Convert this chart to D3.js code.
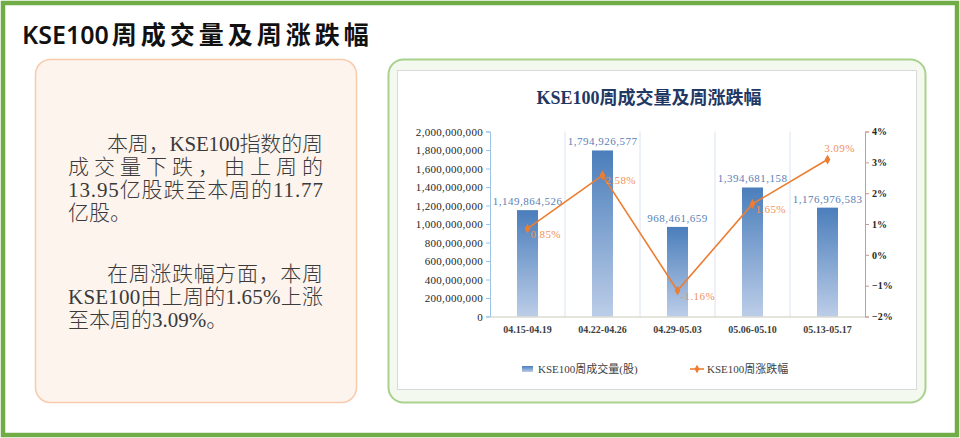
<!DOCTYPE html>
<html>
<head>
<meta charset="utf-8">
<script src="https://cdn.jsdelivr.net/npm/d3@7"></script>
<style>
  body { margin: 0; background: #fff; }
  svg { display: block; }
</style>
</head>
<body>
<svg id="chart" width="960" height="438"></svg>
<script>
// weekly KSE100 data
const weeks = ["04.15-04.19", "04.22-04.26", "04.29-05.03", "05.06-05.10", "05.13-05.17"];
const volumes = [1149864526, 1794926577, 968461659, 1394681158, 1176976583];
const changes = [0.85, 2.58, -1.16, 1.65, 3.09];
const labelSide = ["right", "right", "right", "right", "top"];

const pageTitle = "KSE100周成交量及周涨跌幅";
const chartTitle = "KSE100周成交量及周涨跌幅";
const legendNames = ["KSE100周成交量(股)", "KSE100周涨跌幅"];

// text of the left note, one entry per printed line
const para1 = ["本周，KSE100指数的周", "成交量下跌，由上周的", "13.95亿股跌至本周的11.77", "亿股。"];
const para2 = ["在周涨跌幅方面，本周", "KSE100由上周的1.65%上涨", "至本周的3.09%。"];

const serif = "'Liberation Serif', 'DejaVu Serif', 'Noto Sans CJK SC', serif";
const sans = "'Noto Sans', 'Noto Sans CJK SC', sans-serif";

const svg = d3.select("#chart");

// outer frame
svg.append("rect")
  .attr("x", 3).attr("y", 3)
  .attr("width", 954).attr("height", 432)
  .attr("fill", "#fff")
  .attr("stroke", "#70ad47")
  .attr("stroke-width", 4.5);

// page title
const t = svg.append("text")
  .attr("x", 22).attr("y", 44)
  .attr("font-family", sans)
  .attr("font-size", 25)
  .attr("font-weight", 600)
  .attr("fill", "#111");
t.append("tspan").text(pageTitle.slice(0, 6));
t.append("tspan").attr("dx", 3).attr("letter-spacing", 4).text(pageTitle.slice(6));

// left note box
svg.append("rect")
  .attr("x", 35.5).attr("y", 59.5)
  .attr("width", 321).attr("height", 343)
  .attr("rx", 15)
  .attr("fill", "#fdf4ee")
  .attr("stroke", "#f8cbad")
  .attr("stroke-width", 1.5);

function drawPara(lines, y0) {
  lines.forEach((line, i) => {
    const first = i === 0;
    const last = i === lines.length - 1;
    const x = first ? 107 : 68;
    const txt = svg.append("text")
      .attr("x", x)
      .attr("y", y0 + i * 23)
      .attr("font-family", serif)
      .attr("font-size", 21)
      .attr("font-weight", 300)
      .attr("fill", "#3a3a3a")
      .text(line);
    if (!last) {
      txt.attr("textLength", 323 - x).attr("lengthAdjust", "spacing");
    }
  });
}
drawPara(para1, 151);
drawPara(para2, 281);

// right chart panel
svg.append("rect")
  .attr("x", 388.5).attr("y", 59.5)
  .attr("width", 537).attr("height", 343)
  .attr("rx", 15)
  .attr("fill", "#f3f9ef")
  .attr("stroke", "#a9d18e")
  .attr("stroke-width", 2);

svg.append("rect")
  .attr("x", 397.5).attr("y", 70.5)
  .attr("width", 519).attr("height", 319)
  .attr("fill", "#fff")
  .attr("stroke", "#d9d9d9");

svg.append("text")
  .attr("x", 649).attr("y", 104)
  .attr("text-anchor", "middle")
  .attr("font-family", serif)
  .attr("font-size", 18)
  .attr("font-weight", "bold")
  .attr("fill", "#1f3864")
  .text(chartTitle);

const margin = { left: 490, right: 865, top: 131.5, bottom: 316.5 };

const x = d3.scaleBand()
  .domain(weeks)
  .range([margin.left, margin.right]);

const yLeft = d3.scaleLinear()
  .domain([0, 2000000000])
  .range([margin.bottom, margin.top]);

const yRight = d3.scaleLinear()
  .domain([-2, 4])
  .range([margin.bottom, margin.top]);

// vertical separators between categories
svg.append("g")
  .selectAll("line")
  .data(weeks.slice(1))
  .join("line")
  .attr("x1", d => x(d)).attr("x2", d => x(d))
  .attr("y1", margin.top).attr("y2", margin.bottom)
  .attr("stroke", "#dae3f3")
  .attr("stroke-width", 1);

// bar gradient
const defs = svg.append("defs");
const grad = defs.append("linearGradient")
  .attr("id", "barGrad")
  .attr("x1", 0).attr("y1", 0).attr("x2", 0).attr("y2", 1);
grad.append("stop").attr("offset", "0%").attr("stop-color", "#4a7ebb");
grad.append("stop").attr("offset", "100%").attr("stop-color", "#bccde8");

const barW = 21;

svg.append("g")
  .selectAll("rect")
  .data(volumes)
  .join("rect")
  .attr("x", (d, i) => x(weeks[i]) + x.bandwidth() / 2 - barW / 2)
  .attr("y", d => yLeft(d))
  .attr("width", barW)
  .attr("height", d => yLeft(0) - yLeft(d))
  .attr("fill", "url(#barGrad)");

// bar value labels
svg.append("g")
  .selectAll("text")
  .data(volumes)
  .join("text")
  .attr("x", (d, i) => x(weeks[i]) + x.bandwidth() / 2)
  .attr("y", d => yLeft(d) - 5)
  .attr("text-anchor", "middle")
  .attr("font-family", serif)
  .attr("font-size", 11)
  .attr("letter-spacing", 0.5)
  .attr("fill", "#5b80b5")
  .text(d => d3.format(",")(d));

// left axis
const axL = svg.append("g")
  .attr("transform", `translate(${margin.left},0)`)
  .call(d3.axisLeft(yLeft).ticks(10).tickSize(4).tickFormat(d3.format(",")));
axL.select(".domain").attr("stroke", "#9dc3e6");
axL.selectAll(".tick line").attr("stroke", "#9dc3e6");
axL.selectAll(".tick text")
  .attr("font-family", serif)
  .attr("font-size", 11)
  .attr("letter-spacing", 0.3)
  .attr("fill", "#262626");

// right axis
const axR = svg.append("g")
  .attr("transform", `translate(${margin.right},0)`)
  .call(d3.axisRight(yRight).ticks(6).tickSize(4).tickFormat(d => (d < 0 ? "−" + Math.abs(d) : d) + "%"));
axR.select(".domain").attr("stroke", "#c99a9a");
axR.selectAll(".tick line").attr("stroke", "#c99a9a");
axR.selectAll(".tick text")
  .attr("font-family", serif)
  .attr("font-size", 10)
  .attr("font-weight", "bold")
  .attr("fill", "#262626");

// bottom axis
const axB = svg.append("g")
  .attr("transform", `translate(0,${margin.bottom})`)
  .call(d3.axisBottom(x).tickSize(0).tickPadding(9));
axB.select(".domain").attr("stroke", "#c9c9b9");
axB.selectAll(".tick text")
  .attr("font-family", serif)
  .attr("font-size", 10)
  .attr("font-weight", "bold")
  .attr("fill", "#404040");

// change line
const orange = "#ed7d31";
const line = d3.line()
  .x((d, i) => x(weeks[i]) + x.bandwidth() / 2)
  .y(d => yRight(d));

svg.append("path")
  .datum(changes)
  .attr("fill", "none")
  .attr("stroke", orange)
  .attr("stroke-width", 1.6)
  .attr("d", line);

svg.append("g")
  .selectAll("path")
  .data(changes)
  .join("path")
  .attr("transform", (d, i) => `translate(${x(weeks[i]) + x.bandwidth() / 2},${yRight(d)})`)
  .attr("d", d3.symbol(d3.symbolDiamond, 28))
  .attr("fill", orange);

svg.append("g")
  .selectAll("text")
  .data(changes)
  .join("text")
  .attr("x", (d, i) => x(weeks[i]) + x.bandwidth() / 2 + (labelSide[i] === "top" ? 12 : 3))
  .attr("y", (d, i) => yRight(d) + (labelSide[i] === "top" ? -8 : 9))
  .attr("text-anchor", (d, i) => labelSide[i] === "top" ? "middle" : "start")
  .attr("font-family", serif)
  .attr("font-size", 11)
  .attr("letter-spacing", 0.4)
  .attr("fill", "#f0925a")
  .text(d => d.toFixed(2) + "%");

// legend
const lg = svg.append("g");
lg.append("rect")
  .attr("x", 522).attr("y", 366)
  .attr("width", 11).attr("height", 6)
  .attr("fill", "url(#barGrad)");
lg.append("text")
  .attr("x", 538).attr("y", 373)
  .attr("font-family", serif)
  .attr("font-size", 11)
  .attr("fill", "#404040")
  .text(legendNames[0]);
lg.append("line")
  .attr("x1", 690).attr("x2", 704)
  .attr("y1", 369).attr("y2", 369)
  .attr("stroke", orange).attr("stroke-width", 1.6);
lg.append("path")
  .attr("transform", "translate(697,369)")
  .attr("d", d3.symbol(d3.symbolDiamond, 22))
  .attr("fill", orange);
lg.append("text")
  .attr("x", 707).attr("y", 373)
  .attr("font-family", serif)
  .attr("font-size", 11)
  .attr("fill", "#404040")
  .text(legendNames[1]);
</script>
</body>
</html>
